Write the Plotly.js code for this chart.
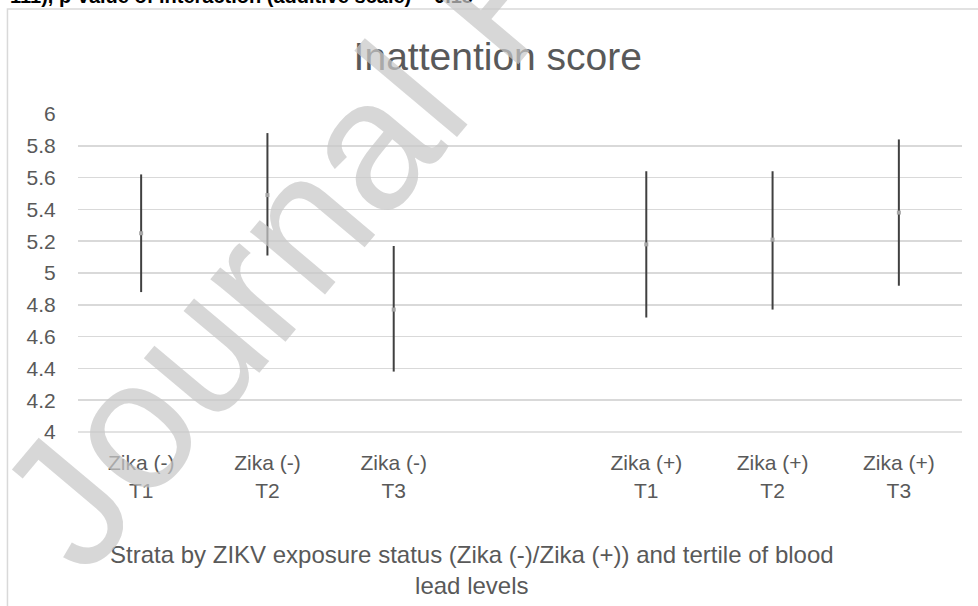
<!DOCTYPE html>
<html>
<head>
<meta charset="utf-8">
<script src="https://cdn.plot.ly/plotly-3.0.1.min.js"></script>
<style>
  html, body { margin: 0; padding: 0; background: #ffffff; }
  #chart { width: 978px; height: 606px; }
</style>
</head>
<body>
<div id="chart"></div>
<script>
// ---- data ----
const categories = ["Zika (-)<br>T1", "Zika (-)<br>T2", "Zika (-)<br>T3", " ",
                    "Zika (+)<br>T1", "Zika (+)<br>T2", "Zika (+)<br>T3"];
const meanScore = [5.25, 5.49, 4.77, null, 5.18, 5.21, 5.38];
const lowerCI   = [4.88, 5.11, 4.38, null, 4.72, 4.77, 4.92];
const upperCI   = [5.62, 5.88, 5.17, null, 5.64, 5.64, 5.84];
const yTickValues = [4, 4.2, 4.4, 4.6, 4.8, 5, 5.2, 5.4, 5.6, 5.8, 6];
const yTickLabels = ["4", "4.2", "4.4", "4.6", "4.8", "5", "5.2", "5.4", "5.6", "5.8", "6"];
const chartTitle = "Inattention score";
const xAxisTitle = "Strata by ZIKV exposure status (Zika (-)/Zika (+)) and tertile of blood<br>lead levels";
const headerText = "111), p-value of interaction (additive scale) = 0.18";
const watermarkText = "Journal Pre-proof";

const errPlus  = meanScore.map((m, i) => m === null ? null : upperCI[i] - m);
const errMinus = meanScore.map((m, i) => m === null ? null : m - lowerCI[i]);

const FONT = "Liberation Sans, Arial, sans-serif";
const GRAY = "#595959";

const trace = {
  type: "scatter",
  mode: "markers",
  x: categories,
  y: meanScore,
  marker: { symbol: "square", size: 4, color: "#a5a5a5" },
  error_y: {
    type: "data",
    symmetric: false,
    array: errPlus,
    arrayminus: errMinus,
    color: "#404040",
    thickness: 2,
    width: 0
  },
  cliponaxis: false,
  hoverinfo: "x+y"
};

const layout = {
  width: 978,
  height: 606,
  margin: { l: 78, r: 16, t: 114, b: 174 },
  paper_bgcolor: "#ffffff",
  plot_bgcolor: "#ffffff",
  showlegend: false,
  font: { family: FONT, color: GRAY, size: 21 },
  title: {
    text: chartTitle,
    font: { family: FONT, size: 39, color: GRAY },
    xref: "container", yref: "container",
    x: 0.509, xanchor: "center",
    y: 0.9076, yanchor: "middle"
  },
  xaxis: {
    type: "category",
    categoryorder: "array",
    categoryarray: categories,
    range: [-0.5, 6.5],
    showgrid: false,
    zeroline: false,
    showline: false,
    ticks: "outside",
    ticklen: 12,
    tickcolor: "rgba(0,0,0,0)",
    tickfont: { family: FONT, size: 21, color: GRAY },
    fixedrange: true
  },
  yaxis: {
    range: [4, 6],
    tickmode: "array",
    tickvals: yTickValues,
    ticktext: yTickLabels,
    showgrid: true,
    gridcolor: "#d9d9d9",
    gridwidth: 1.5,
    zeroline: false,
    showline: false,
    ticks: "outside",
    ticklen: 17,
    tickcolor: "rgba(0,0,0,0)",
    tickfont: { family: FONT, size: 21, color: GRAY },
    fixedrange: true
  },
  shapes: [
    { type: "rect", xref: "paper", yref: "paper",
      x0: -0.0798, x1: 1.06, y0: -0.62, y1: 1.330,
      line: { color: "#d9d9d9", width: 1.5 }, fillcolor: "rgba(0,0,0,0)", layer: "below" },
    { type: "line", xref: "paper", yref: "paper",
      x0: 0, x1: 1, y0: 0, y1: 0,
      line: { color: "#d9d9d9", width: 1.5 }, layer: "below" }
  ],
  annotations: [
    { text: xAxisTitle, xref: "paper", yref: "paper",
      x: 0.4457, y: -0.434, xanchor: "center", yanchor: "middle",
      showarrow: false, align: "center",
      font: { family: FONT, size: 24, color: GRAY } },
    { text: "<b>" + headerText + "</b>", xref: "paper", yref: "paper",
      x: -0.0792, y: 1.330, xanchor: "left", yanchor: "bottom",
      showarrow: false, font: { family: FONT, size: 20, color: "#000000" } },
    { text: watermarkText, xref: "paper", yref: "paper",
      x: 0.4729, y: 1.387, xanchor: "center", yanchor: "middle",
      textangle: -50, showarrow: false,
      font: { family: FONT, size: 185, color: "rgba(200,200,200,0.72)" } }
  ]
};

Plotly.newPlot("chart", [trace], layout, { displayModeBar: false, staticPlot: true });
</script>
</body>
</html>
